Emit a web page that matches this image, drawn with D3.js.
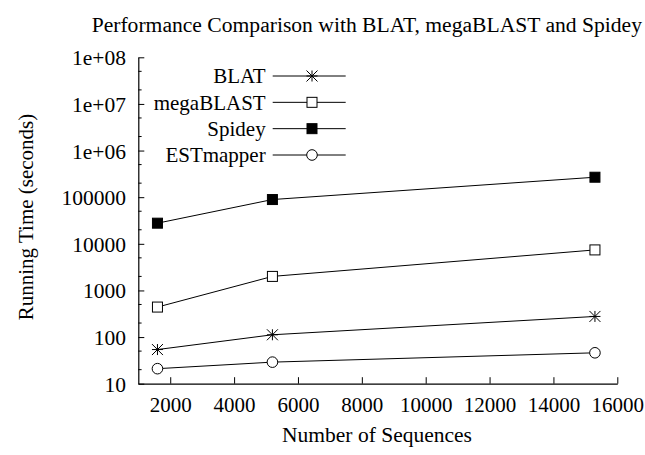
<!DOCTYPE html>
<html>
<head>
<meta charset="utf-8">
<script src="https://cdn.jsdelivr.net/npm/d3@7"></script>
<style>
	body { margin: 0; background: #fff; }
	svg { display: block; }
	text { font-family: "Liberation Serif", "Times New Roman", serif; font-size: 21px; fill: #000; }
</style>
</head>
<body>
<div id="chart"></div>
<script>
const sequences = [1600, 5200, 15300]
const blat = [54, 112, 277]
const megablast = [440, 2000, 7400]
const spidey = [27700, 89000, 268000]
const estmapper = [21, 29, 46]

const seriesNames = ['BLAT', 'megaBLAST', 'Spidey', 'ESTmapper']
const seriesValues = [blat, megablast, spidey, estmapper]
const seriesMarks = ['star', 'square', 'filled', 'circle']

const xTicks = [2000, 4000, 6000, 8000, 10000, 12000, 14000, 16000]
const yTicks = [10, 100, 1000, 10000, 100000, 1e6, 1e7, 1e8]
const yTickLabels = ['10', '100', '1000', '10000', '100000', '1e+06', '1e+07', '1e+08']

const width = 645, height = 455
const margin = { left: 138.3, right: 617.3, top: 57.3, bottom: 383.7 }

const svg = d3.select('#chart')
	.append('svg')
	.attr('width', width)
	.attr('height', height)

const x = d3.scaleLinear().domain([1000, 16000]).range([margin.left, margin.right])
const y = d3.scaleLog().domain([10, 1e8]).range([margin.bottom, margin.top])

// title, pushed as far right as it can go while staying whole
svg.append('text')
	.attr('x', 642)
	.attr('y', 32)
	.attr('text-anchor', 'end')
	.style('font-size', '21.6px')
	.text('Performance Comparison with BLAT, megaBLAST and Spidey')

// axes: ticks point inward, only left and bottom border
const xAxis = d3.axisBottom(x)
	.tickValues(xTicks)
	.tickSizeInner(-6.5)
	.tickSizeOuter(0)
	.tickPadding(0)
	.tickFormat(d3.format('d'))

const gx = svg.append('g')
	.attr('transform', `translate(0,${margin.bottom})`)
	.call(xAxis)
gx.select('.domain').attr('stroke', '#000').attr('stroke-width', 1.2)
gx.selectAll('.tick line').attr('stroke', '#000')
gx.selectAll('.tick text')
	.attr('y', 28.6)
	.attr('dy', 0)
	.style('font-family', '"Liberation Serif", serif')
	.style('font-size', '21px')

const yAxis = d3.axisLeft(y)
	.tickValues(yTicks)
	.tickSizeInner(-6)
	.tickSizeOuter(0)
	.tickFormat((d, i) => yTickLabels[i])

const gy = svg.append('g')
	.attr('transform', `translate(${margin.left},0)`)
	.call(yAxis)
gy.select('.domain').attr('stroke', '#000').attr('stroke-width', 1.2)
gy.selectAll('.tick line').attr('stroke', '#000')
gy.selectAll('.tick text')
	.attr('x', -12.3)
	.attr('dy', '0.35em')
	.style('font-family', '"Liberation Serif", serif')
	.style('font-size', '21.5px')

// minor ticks at 2x and 5x of each decade
const minorTicks = []
yTicks.slice(0, -1).forEach(d => { minorTicks.push(d * 2, d * 5) })
svg.append('g').selectAll('line.minor')
	.data(minorTicks)
	.enter()
		.append('line')
			.attr('class', 'minor')
			.attr('x1', margin.left)
			.attr('x2', margin.left + 3.3)
			.attr('y1', d => y(d))
			.attr('y2', d => y(d))
			.attr('stroke', '#000')

// axis labels
svg.append('text')
	.attr('transform', 'translate(33,217) rotate(-90)')
	.attr('text-anchor', 'middle')
	.text('Running Time (seconds)')

svg.append('text')
	.attr('x', 377)
	.attr('y', 441.7)
	.attr('text-anchor', 'middle')
	.style('font-size', '21.5px')
	.text('Number of Sequences')

// markers
function drawMark(g, type, cx, cy) {
	if (type === 'star') {
		const r = 5.5
		g.append('path')
			.attr('d', `M${cx - r},${cy}H${cx + r}M${cx},${cy - r}V${cy + r}M${cx - r},${cy - r}L${cx + r},${cy + r}M${cx - r},${cy + r}L${cx + r},${cy - r}`)
			.attr('stroke', '#000')
			.attr('stroke-width', 1)
	} else if (type === 'square' || type === 'filled') {
		const s = 10
		g.append('rect')
			.attr('x', cx - s / 2)
			.attr('y', cy - s / 2)
			.attr('width', s)
			.attr('height', s)
			.attr('fill', type === 'filled' ? '#000' : '#fff')
			.attr('stroke', '#000')
			.attr('stroke-width', 1)
	} else {
		g.append('circle')
			.attr('cx', cx)
			.attr('cy', cy)
			.attr('r', 5.3)
			.attr('fill', '#fff')
			.attr('stroke', '#000')
			.attr('stroke-width', 1)
	}
}

const line = d3.line()
	.x((d, i) => x(sequences[i]))
	.y(d => y(d))

seriesValues.forEach((values, k) => {
	const g = svg.append('g').attr('class', 'series')
	g.append('path')
		.attr('d', line(values))
		.attr('fill', 'none')
		.attr('stroke', '#000')
		.attr('stroke-width', 1)
	values.forEach((v, i) => drawMark(g, seriesMarks[k], x(sequences[i]), y(v)))
})

// legend
const legendY = d3.scalePoint().domain(seriesNames).range([76, 155])
seriesNames.forEach((name, k) => {
	const ly = legendY(name)
	const g = svg.append('g').attr('class', 'legend')
	g.append('text')
		.attr('x', 265.7)
		.attr('y', ly)
		.attr('dy', '0.35em')
		.attr('text-anchor', 'end')
		.text(name)
	g.append('line')
		.attr('x1', 272.7)
		.attr('x2', 345.7)
		.attr('y1', ly)
		.attr('y2', ly)
		.attr('stroke', '#000')
	drawMark(g, seriesMarks[k], 312, ly)
})
</script>
</body>
</html>
